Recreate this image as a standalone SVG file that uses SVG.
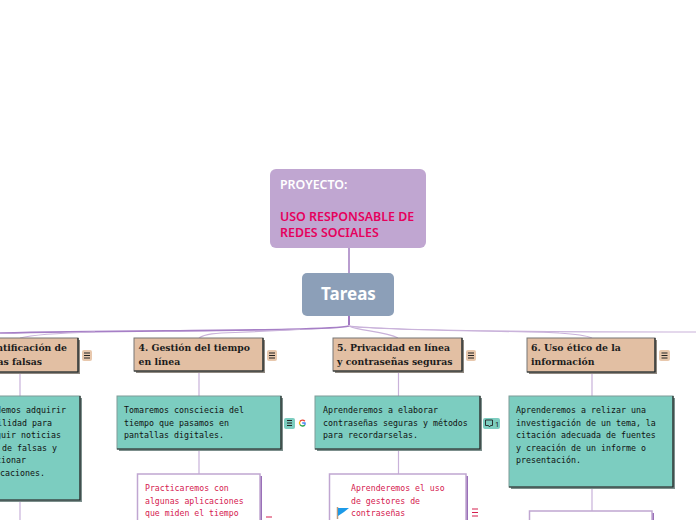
<svg xmlns="http://www.w3.org/2000/svg" width="696" height="520" viewBox="0 0 696 520">
<style>
text{white-space:pre}
.r{font-family:"Noto Sans","Open Sans",sans-serif;font-weight:600;font-size:12.4px}
.t{font-family:"DejaVu Serif",serif;font-weight:700;font-size:9.3px;fill:#1c1c1c}
.b{font-family:"DejaVu Sans Mono",monospace;font-size:8.3px;fill:#111}
.w{font-family:"DejaVu Sans Mono",monospace;font-size:8.2px;fill:#d5204f}
.sub{fill:#e2bfa3;stroke:#777;stroke-width:1}
.subs{fill:#8f8880}
.tl{fill:#7ccdc0;stroke:#7f9c98;stroke-width:1}
.tls{fill:#7c8f8c}
.edge{fill:none;stroke:#1d2422;stroke-width:1.200}
.wh{fill:#fff;stroke:#c0a6d1;stroke-width:1.5}
.whs{fill:#9a70b8}
.c{fill:none;stroke:#c9b2da;stroke-width:1.2}
.ib{stroke:#222;stroke-width:1;fill:none}
</style>
<g id="connectors">
<path d="M349 248V273" fill="none" stroke="#8a5cb0" stroke-width="1.2"/>
<path d="M349 316V325" fill="none" stroke="#7a3fa8" stroke-width="1.4"/>
<path d="M349 326C330 331 150 330 0 333" fill="none" stroke="#a67fc6" stroke-width="1.7"/>
<path d="M300 329.500C270 331 250 332 235 332.500C215 333 205 334 199 338" class="c"/>
<path d="M95 332C60 333 35 334 20 338" class="c"/>
<path d="M349 326C358 331 385 331 398 338" class="c"/>
<path d="M349 326C375 331 540 331 559 333C575 334 585 335 592 338" class="c"/>
<path d="M349 326C400 331 550 332 696 332" class="c"/>
<path d="M20 372V396M20 500V520M199 371V396M199 449V474M398.500 371V396M398.500 449V474M592 372V396M592 487V511" class="c"/>
</g>
<g id="root"><rect x="270" y="169" width="156" height="79" rx="6" fill="#c0a6d1"/>
<text class="r" x="280" y="189" fill="#fff">PROYECTO:</text>
<text class="r" x="280" y="221" fill="#e6005c">USO RESPONSABLE DE</text>
<text class="r" x="280" y="237" fill="#e6005c">REDES SOCIALES</text></g>
<g id="tareas"><rect x="302" y="273" width="92" height="43" rx="5" fill="#8c9fb8"/>
<text x="348.500" y="300" text-anchor="middle" font-family="Noto Sans,sans-serif" font-weight="700" font-size="17" fill="#fff">Tareas</text></g>

<g id="n3">
<rect x="-60" y="340" width="140" height="34" class="subs"/><rect x="-62" y="338" width="140" height="34" class="sub"/>
<path class="edge" d="M78 338V372H-62"/>
<text class="t" x="67" y="351" text-anchor="end">3. Identificación de</text>
<text class="t" x="42" y="365" text-anchor="end">noticias falsas</text>
<rect x="82" y="350" width="10" height="11" rx="2" fill="#e8c8ad"/><path class="ib" d="M84 353H90M84 355.500H90M84 358H90"/>
</g>
<g id="n3a">
<rect x="-82" y="398" width="164" height="104" class="tls"/><rect x="-84" y="396" width="164" height="104" class="tl"/>
<path class="edge" d="M80 396V500H-84"/>
<text class="b" x="66" y="413" text-anchor="end">Aprendemos adquirir</text>
<text class="b" x="52" y="426" text-anchor="end">la habilidad para</text>
<text class="b" x="61" y="438" text-anchor="end">distinguir noticias</text>
<text class="b" x="57" y="451" text-anchor="end">reales de falsas y</text>
<text class="b" x="26" y="463" text-anchor="end">seleccionar</text>
<text class="b" x="45" y="476" text-anchor="end">publicaciones.</text>
</g>

<g id="n4">
<rect x="136" y="340" width="129" height="33" class="subs"/><rect x="134" y="338" width="129" height="33" class="sub"/>
<path class="edge" d="M263 338V371H134"/>
<text class="t" x="138.500" y="351">4. Gestión del tiempo</text>
<text class="t" x="138.500" y="365">en línea</text>
<rect x="267" y="350" width="10" height="11" rx="2" fill="#e8c8ad"/><path class="ib" d="M269 353H275M269 355.500H275M269 358H275"/>
</g>
<g id="n4a">
<rect x="119" y="398" width="164" height="53" class="tls"/><rect x="117" y="396" width="164" height="53" class="tl"/>
<path class="edge" d="M281 396V449H117"/>
<text class="b" x="124" y="413">Tomaremos consciecia del</text>
<text class="b" x="124" y="426">tiempo que pasamos en</text>
<text class="b" x="124" y="438">pantallas digitales.</text>
<rect x="284" y="418" width="11" height="11" rx="2" fill="#7ccdc0"/><path class="ib" d="M287 420.500H292M287 423H292M287 425.500H292"/>
<g fill="none" stroke-width="1.400"><path d="M304.800 421.300A3 3 0 0 0 299.900 421.500" stroke="#ea4335"/><path d="M299.900 421.500A3 3 0 0 0 299.900 424.500" stroke="#fbbc05"/><path d="M299.900 424.500A3 3 0 0 0 304.800 425" stroke="#34a853"/><path d="M304.800 425A3 3 0 0 0 305 423H302.200" stroke="#4285f4"/></g>
</g>
<g id="n4b">
<rect x="139" y="476" width="123" height="50" class="whs"/><rect x="137.500" y="474" width="122.500" height="52" class="wh"/>
<text class="w" x="145" y="491">Practicaremos con</text>
<text class="w" x="145" y="503.500">algunas aplicaciones</text>
<text class="w" x="145" y="516">que miden el tiempo</text>
<path d="M266 517H272" stroke="#d5204f" stroke-width="1"/>
</g>

<g id="n5">
<rect x="335" y="340" width="129" height="33" class="subs"/><rect x="333" y="338" width="129" height="33" class="sub"/>
<path class="edge" d="M462 338V371H333"/>
<text class="t" x="337" y="351">5. Privacidad en línea</text>
<text class="t" x="337" y="365">y contraseñas seguras</text>
<rect x="466" y="350" width="10" height="11" rx="2" fill="#e8c8ad"/><path class="ib" d="M468 353H474M468 355.500H474M468 358H474"/>
</g>
<g id="n5a">
<rect x="317" y="398" width="165" height="53" class="tls"/><rect x="315" y="396" width="165" height="53" class="tl"/>
<path class="edge" d="M480 396V449H315"/>
<text class="b" x="323" y="413">Aprenderemos a elaborar</text>
<text class="b" x="323" y="426">contraseñas seguras y métodos</text>
<text class="b" x="323" y="438">para recordarselas.</text>
<rect x="483" y="418" width="17" height="11" rx="2" fill="#7ccdc0"/><path d="M485.500 420H492.500V425.500H490.500L489.500 427L488.500 425.500H485.500Z" fill="none" stroke="#222" stroke-width="0.900"/>
<text x="495" y="426.500" font-family="Noto Sans,sans-serif" font-size="7.500" fill="#222">1</text>
</g>
<g id="n5b">
<rect x="331" y="476" width="137" height="50" class="whs"/><rect x="329.500" y="474" width="136.500" height="52" class="wh"/>
<path d="M337.500 507V519" stroke="#b89a80" stroke-width="1.500"/><path d="M338 508H349L344 512L338 516Z" fill="#1c9ae8"/>
<text class="w" x="351" y="491">Aprenderemos el uso</text>
<text class="w" x="351" y="503.500">de gestores de</text>
<text class="w" x="351" y="516">contraseñas</text>
<path d="M472 509H478M472 512.500H478M472 516H478" stroke="#d5204f" stroke-width="1" fill="none"/>
</g>

<g id="n6">
<rect x="529" y="340" width="128" height="34" class="subs"/><rect x="527" y="338" width="128" height="34" class="sub"/>
<path class="edge" d="M655 338V372H527"/>
<text class="t" x="531" y="351">6. Uso ético de la</text>
<text class="t" x="531" y="365">información</text>
<rect x="659" y="350" width="11" height="11" rx="2" fill="#e8c8ad"/><path class="ib" d="M661.500 353H667.500M661.500 355.500H667.500M661.500 358H667.500"/>
</g>
<g id="n6a">
<rect x="511" y="398" width="164" height="91" class="tls"/><rect x="509" y="396" width="164" height="91" class="tl"/>
<path class="edge" d="M673 396V487H509"/>
<text class="b" x="516" y="413">Aprenderemos a relizar una</text>
<text class="b" x="516" y="426">investigación de un tema, la</text>
<text class="b" x="516" y="438">citación adecuada de fuentes</text>
<text class="b" x="516" y="451">y creación de un informe o</text>
<text class="b" x="516" y="463">presentación.</text>
</g>
<g id="n6b">
<rect x="531" y="513" width="123" height="20" class="whs"/><rect x="529.500" y="511" width="122.500" height="20" class="wh"/>
</g>
</svg>
